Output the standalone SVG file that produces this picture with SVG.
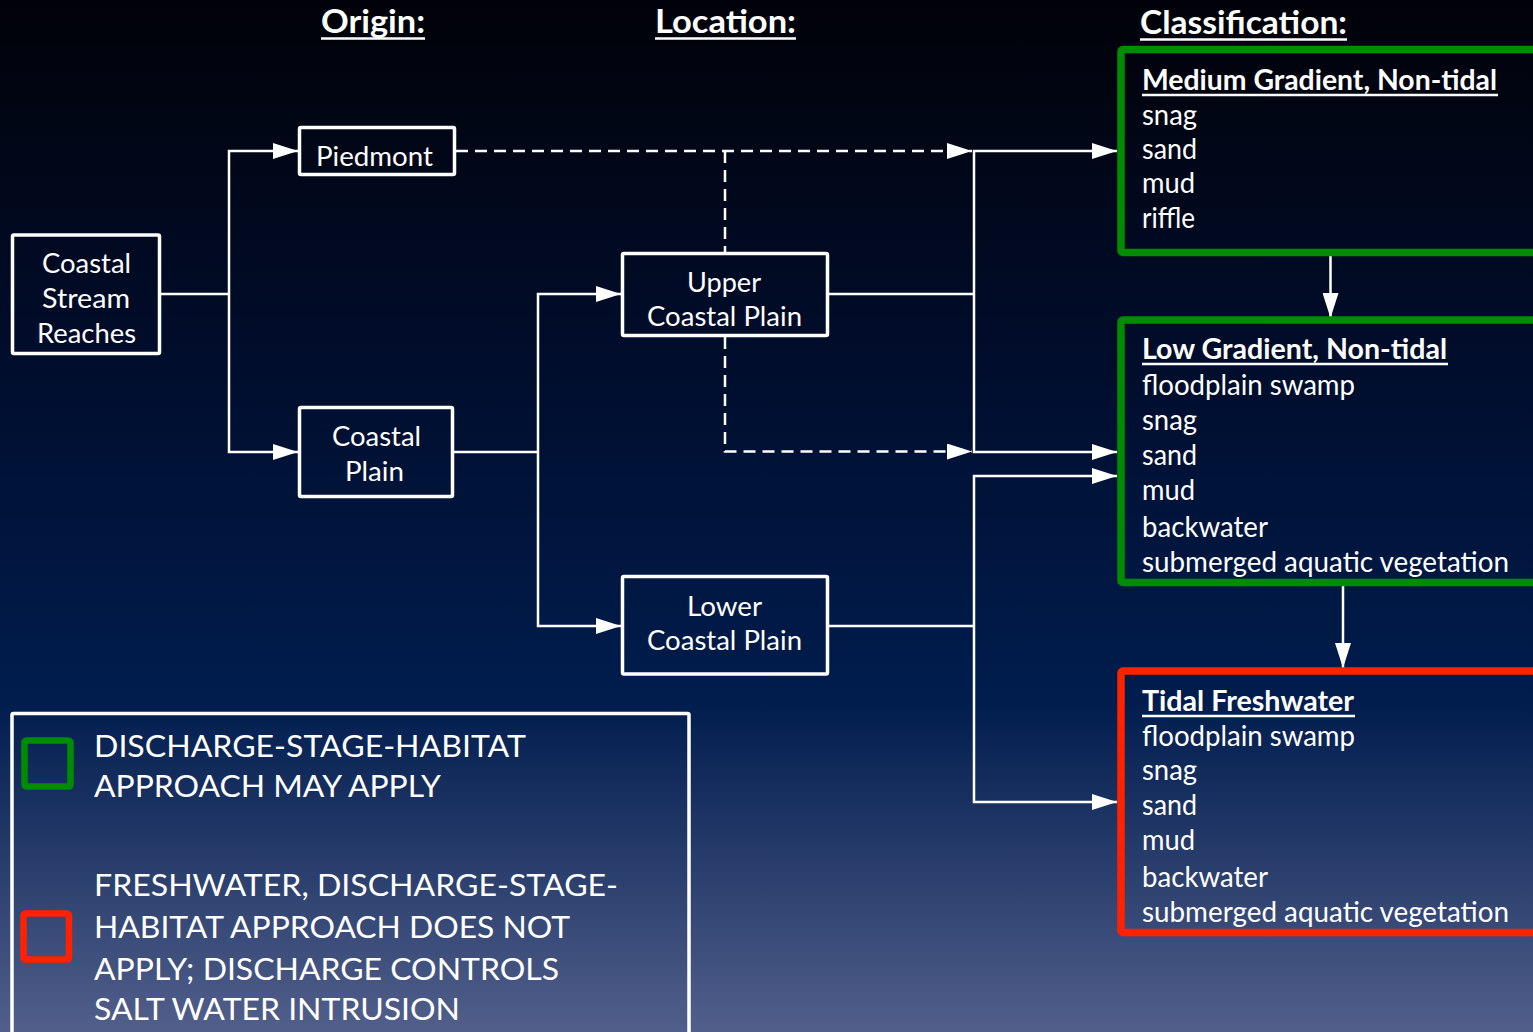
<svg xmlns="http://www.w3.org/2000/svg" width="1533" height="1032" viewBox="0 0 1533 1032">
<defs>
<linearGradient id="bg" x1="0" y1="0" x2="0" y2="1">
<stop offset="0" stop-color="#010208"/>
<stop offset="0.35" stop-color="#000d2c"/>
<stop offset="0.68" stop-color="#001d4e"/>
<stop offset="1" stop-color="#525f8b"/>
</linearGradient>
<marker id="ah" markerUnits="userSpaceOnUse" markerWidth="26" markerHeight="16" refX="25" refY="8" orient="auto">
<path d="M0,0 L25,8 L0,16 z" fill="#ffffff"/>
</marker>
<style>
text{font-family:Lato,"Liberation Sans",sans-serif;fill:#ffffff}
.node{fill:none;stroke:#ffffff;stroke-width:3.5}
.lbl{font-size:27px}
.hdr{font-size:33px;font-weight:bold}
.ttl{font-size:28px;font-weight:bold}
.item{font-size:28px}
.leg{font-size:30px}
.ul{stroke:#ffffff;stroke-width:2.5}
.green{fill:none;stroke:#008c00;stroke-width:7.5}
.red{fill:none;stroke:#ff2200;stroke-width:7.5}
.c{fill:none;stroke:#ffffff;stroke-width:2.5}
.d{fill:none;stroke:#ffffff;stroke-width:2.5;stroke-dasharray:12 7}
.a{marker-end:url(#ah)}
</style>
</defs>
<rect x="0" y="0" width="1533" height="1032" fill="url(#bg)"/>

<g id="header-origin">
<text class="hdr" x="321" y="33" textLength="104" lengthAdjust="spacingAndGlyphs">Origin:</text>
<line class="ul" x1="321" y1="38.5" x2="425" y2="38.5"/>
</g>
<g id="header-location">
<text class="hdr" x="655" y="33" textLength="141" lengthAdjust="spacingAndGlyphs">Location:</text>
<line class="ul" x1="655" y1="38.5" x2="796" y2="38.5"/>
</g>
<g id="header-classification">
<text class="hdr" x="1140" y="34" textLength="207" lengthAdjust="spacingAndGlyphs">Classification:</text>
<line class="ul" x1="1140" y1="39.5" x2="1347" y2="39.5"/>
</g>

<g id="connectors">
<path class="c" d="M160,294 H229"/>
<path class="c a" d="M229,294 V151 H298"/>
<path class="c a" d="M229,294 V452 H298"/>
<path class="c" d="M453,452 H538"/>
<path class="c a" d="M538,452 V294 H621"/>
<path class="c a" d="M538,452 V626 H621"/>
<path class="d a" d="M456,151 H972"/>
<path class="d" d="M725,151 V252"/>
<path class="d a" d="M725,337 V451.5 H972"/>
<path class="c" d="M829,294 H974"/>
<path class="c a" d="M974,294 V151 H1117"/>
<path class="c a" d="M974,294 V452 H1117"/>
<path class="c" d="M829,626 H974"/>
<path class="c a" d="M974,626 V476 H1117"/>
<path class="c a" d="M974,626 V802 H1117"/>
<path class="c a" d="M1330.5,254 V318"/>
<path class="c a" d="M1343,586 V668"/>
</g>

<g id="node-coastal-stream-reaches">
<rect class="node" x="12.5" y="235" width="147" height="118.5" rx="1.5"/>
<text class="lbl" x="42" y="273" textLength="89" lengthAdjust="spacingAndGlyphs">Coastal</text>
<text class="lbl" x="42" y="308" textLength="88" lengthAdjust="spacingAndGlyphs">Stream</text>
<text class="lbl" x="37" y="343" textLength="99" lengthAdjust="spacingAndGlyphs">Reaches</text>
</g>
<g id="node-piedmont">
<rect class="node" x="299.5" y="127.5" width="155" height="47" rx="1.5"/>
<text class="lbl" x="316" y="166" textLength="117" lengthAdjust="spacingAndGlyphs">Piedmont</text>
</g>
<g id="node-coastal-plain">
<rect class="node" x="299.5" y="407.5" width="153" height="89" rx="1.5"/>
<text class="lbl" x="332" y="446" textLength="89" lengthAdjust="spacingAndGlyphs">Coastal</text>
<text class="lbl" x="345" y="481" textLength="59" lengthAdjust="spacingAndGlyphs">Plain</text>
</g>
<g id="node-upper-coastal-plain">
<rect class="node" x="622.5" y="253.5" width="205" height="82" rx="1.5"/>
<text class="lbl" x="687" y="292" textLength="74" lengthAdjust="spacingAndGlyphs">Upper</text>
<text class="lbl" x="647" y="326" textLength="155" lengthAdjust="spacingAndGlyphs">Coastal Plain</text>
</g>
<g id="node-lower-coastal-plain">
<rect class="node" x="622.5" y="576.5" width="205" height="97.5" rx="1.5"/>
<text class="lbl" x="687" y="616" textLength="75" lengthAdjust="spacingAndGlyphs">Lower</text>
<text class="lbl" x="647" y="650" textLength="155" lengthAdjust="spacingAndGlyphs">Coastal Plain</text>
</g>

<g id="node-medium-gradient">
<rect class="green" x="1121" y="49.5" width="460" height="203" rx="2"/>
<text class="ttl" x="1142" y="90" textLength="355" lengthAdjust="spacingAndGlyphs">Medium Gradient, Non-tidal</text>
<line class="ul" x1="1142" y1="95" x2="1498" y2="95"/>
<text class="item" x="1142" y="125" textLength="55" lengthAdjust="spacingAndGlyphs">snag</text>
<text class="item" x="1142" y="159" textLength="55" lengthAdjust="spacingAndGlyphs">sand</text>
<text class="item" x="1142" y="193" textLength="53" lengthAdjust="spacingAndGlyphs">mud</text>
<text class="item" x="1142" y="228" textLength="53" lengthAdjust="spacingAndGlyphs">riffle</text>
</g>
<g id="node-low-gradient">
<rect class="green" x="1121" y="320" width="460" height="262.5" rx="2"/>
<text class="ttl" x="1142" y="359" textLength="305" lengthAdjust="spacingAndGlyphs">Low Gradient, Non-tidal</text>
<line class="ul" x1="1142" y1="364" x2="1448" y2="364"/>
<text class="item" x="1142" y="395" textLength="213" lengthAdjust="spacingAndGlyphs">floodplain swamp</text>
<text class="item" x="1142" y="430" textLength="55" lengthAdjust="spacingAndGlyphs">snag</text>
<text class="item" x="1142" y="465" textLength="55" lengthAdjust="spacingAndGlyphs">sand</text>
<text class="item" x="1142" y="500" textLength="53" lengthAdjust="spacingAndGlyphs">mud</text>
<text class="item" x="1142" y="537" textLength="126" lengthAdjust="spacingAndGlyphs">backwater</text>
<text class="item" x="1142" y="572" textLength="367" lengthAdjust="spacingAndGlyphs">submerged aquatic vegetation</text>
</g>
<g id="node-tidal-freshwater">
<rect class="red" x="1121" y="671" width="460" height="261.5" rx="2"/>
<text class="ttl" x="1142" y="711" textLength="212" lengthAdjust="spacingAndGlyphs">Tidal Freshwater</text>
<line class="ul" x1="1142" y1="716" x2="1355" y2="716"/>
<text class="item" x="1142" y="746" textLength="213" lengthAdjust="spacingAndGlyphs">floodplain swamp</text>
<text class="item" x="1142" y="780" textLength="55" lengthAdjust="spacingAndGlyphs">snag</text>
<text class="item" x="1142" y="815" textLength="55" lengthAdjust="spacingAndGlyphs">sand</text>
<text class="item" x="1142" y="850" textLength="53" lengthAdjust="spacingAndGlyphs">mud</text>
<text class="item" x="1142" y="887" textLength="126" lengthAdjust="spacingAndGlyphs">backwater</text>
<text class="item" x="1142" y="922" textLength="367" lengthAdjust="spacingAndGlyphs">submerged aquatic vegetation</text>
</g>

<g id="legend">
<rect x="12" y="713.5" width="677" height="400" fill="none" stroke="#ffffff" stroke-width="3.5" rx="1.5"/>
<rect x="24.5" y="740.5" width="46" height="46" rx="2" fill="none" stroke="#008c00" stroke-width="6.5"/>
<text class="leg" x="94" y="757" textLength="432" lengthAdjust="spacingAndGlyphs">DISCHARGE-STAGE-HABITAT</text>
<text class="leg" x="94" y="797" textLength="347" lengthAdjust="spacingAndGlyphs">APPROACH MAY APPLY</text>
<rect x="23.5" y="913.5" width="45.5" height="46" rx="2" fill="none" stroke="#ff2200" stroke-width="6.5"/>
<text class="leg" x="94" y="896" textLength="524" lengthAdjust="spacingAndGlyphs">FRESHWATER, DISCHARGE-STAGE-</text>
<text class="leg" x="94" y="938" textLength="476" lengthAdjust="spacingAndGlyphs">HABITAT APPROACH DOES NOT</text>
<text class="leg" x="94" y="980" textLength="465" lengthAdjust="spacingAndGlyphs">APPLY; DISCHARGE CONTROLS</text>
<text class="leg" x="94" y="1020" textLength="366" lengthAdjust="spacingAndGlyphs">SALT WATER INTRUSION</text>
</g>
</svg>
